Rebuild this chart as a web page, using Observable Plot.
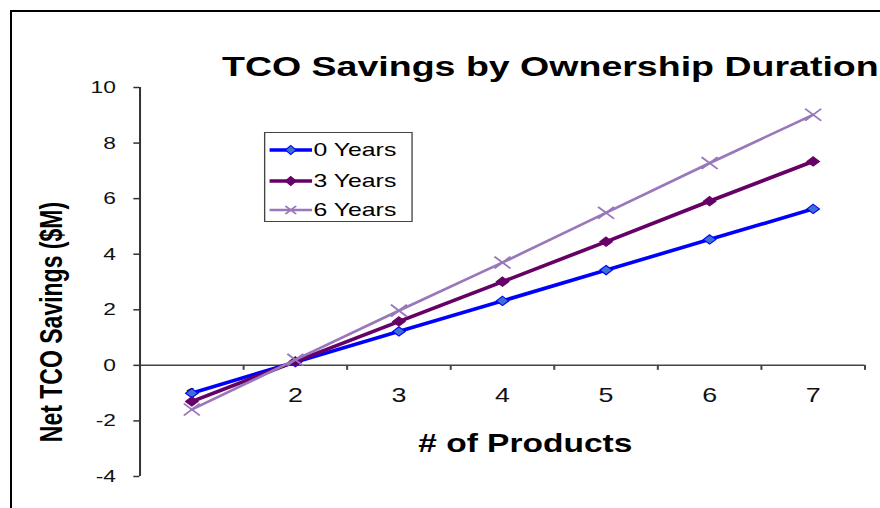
<!DOCTYPE html>
<html><head><meta charset="utf-8">
<script src="https://cdn.jsdelivr.net/npm/d3@7"></script>
<script src="https://cdn.jsdelivr.net/npm/@observablehq/plot@0.6"></script>
<style>
html,body{margin:0;padding:0;background:#fff;}
#outer{position:relative;width:880px;height:508px;overflow:hidden;background:#fff;font-family:"Liberation Sans",Arial,Helvetica,sans-serif;color:#000;}
#frame{position:absolute;left:10px;top:9.5px;width:1000px;height:1000px;border-left:2px solid #000;border-top:2px solid #000;}
#inner{position:absolute;left:0;top:0;width:657px;height:508px;transform:scaleX(1.34);transform-origin:0 0;}
#inner svg{position:absolute;left:0;top:0;display:block;}
.lbl{position:absolute;white-space:nowrap;font-weight:bold;line-height:1;}
#title{font-size:28px;left:410.7px;top:53.3px;transform:translateX(-50%);}
#xtitle{font-size:25px;left:392px;top:430.8px;transform:translateX(-50%);}
#ytitle{font-size:23px;left:38.8px;top:322px;transform:translate(-50%,-50%) rotate(-90deg);}
#legend{position:absolute;left:197px;top:132px;width:110.5px;height:90px;box-sizing:border-box;border:1.5px solid #444;background:#fff;}
.row{position:absolute;left:3px;height:20px;display:flex;align-items:center;font-size:18.5px;white-space:nowrap;}
.row svg{position:static !important;display:block;margin-right:1px;}
</style>
</head><body>
<div id="outer">
  <div id="frame"></div>
  <div id="inner"></div>
</div>
<script>
// ---- data ----
const products = [1, 2, 3, 4, 5, 6, 7];
const xTickLabels = ["1", "2", "3", "4", "5", "6", "7"];
const years0 = [-1.0, 0.12, 1.22, 2.32, 3.43, 4.53, 5.63];
const years3 = [-1.3, 0.14, 1.58, 3.01, 4.45, 5.91, 7.34];
const years6 = [-1.59, 0.2, 1.97, 3.70, 5.49, 7.28, 9.02];
const seriesNames = ["0 Years", "3 Years", "6 Years"];
const yTicks = [-4, -2, 0, 2, 4, 6, 8, 10];
const yTickLabels = ["-4", "-2", "0", "2", "4", "6", "8", "10"];
const xDividers = [1.5, 2.5, 3.5, 4.5, 5.5, 6.5, 7.5];
const xDomain = [0.5, 7.5];
const yDomain = [-4, 10];
const chartTitle = "TCO Savings by Ownership Duration";
const xTitle = "# of Products";
const yTitle = "Net TCO Savings ($M)";

// ---- styles ----
const colors = ["#0000FF", "#660066", "#9977BB"];
const markerFill = ["#3D6FD6", "#660066", "none"];
const symbols = ["diamond2", "diamond2", "times"];
const widths = [3.5, 3.5, 2.5];

const toRows = vals => products.map((p, i) => ({p, v: vals[i]}));
const seriesData = [toRows(years0), toRows(years3), toRows(years6)];

const seriesMarks = seriesData.flatMap((rows, k) => [
  Plot.line(rows, {x: "p", y: "v", stroke: colors[k], strokeWidth: widths[k]}),
  k === 2
    ? Plot.dot(rows, {x: "p", y: "v", symbol: symbols[k], r: 5.5, stroke: colors[k], strokeWidth: 1.6})
    : Plot.dot(rows, {x: "p", y: "v", symbol: symbols[k], r: 4.2, fill: markerFill[k], stroke: colors[k], strokeWidth: 1})
]);

const chart = Plot.plot({
  width: 657,
  height: 508,
  marginLeft: 104,
  marginRight: 12,
  marginTop: 87,
  marginBottom: 32,
  style: {fontFamily: '"Liberation Sans", Arial, sans-serif', background: "transparent", color: "#000", overflow: "visible"},
  x: {domain: xDomain, axis: null},
  y: {domain: yDomain},
  marks: [
    Plot.text(products, {x: d => d, y: () => 0, text: (d, i) => xTickLabels[i], dy: 30.5, fontSize: 20, fill: "#111"}),
    Plot.ruleY([0], {stroke: "#444", strokeWidth: 1.5}),
    Plot.ruleX(xDividers, {x: d => d, y1: 0, y2: 0, insetBottom: -5, stroke: "#444", strokeWidth: 1.5}),
    Plot.ruleX([xDomain[0]], {stroke: "#333", strokeWidth: 1.5}),
    Plot.axisY({ticks: yTicks, tickFormat: d => yTickLabels[yTicks.indexOf(d)], tickSize: 4.5, tickPadding: 13.5, fontSize: 17, label: null, stroke: "#333", strokeWidth: 1.5, fill: "#111"}),
    ...seriesMarks
  ]
});

const inner = document.getElementById("inner");
inner.appendChild(chart);

function addLabel(id, text) {
  const d = document.createElement("div");
  d.className = "lbl"; d.id = id; d.textContent = text;
  inner.appendChild(d);
}
addLabel("title", chartTitle);
addLabel("xtitle", xTitle);
addLabel("ytitle", yTitle);

// legend
const legend = document.createElement("div");
legend.id = "legend";
const rowTops = [6.5, 38, 67];
seriesNames.forEach((name, k) => {
  const row = document.createElement("div");
  row.className = "row";
  row.style.top = rowTops[k] + "px";
  const ns = "http://www.w3.org/2000/svg";
  const sw = document.createElementNS(ns, "svg");
  sw.setAttribute("width", 32); sw.setAttribute("height", 16);
  const ln = document.createElementNS(ns, "line");
  ln.setAttribute("x1", 0); ln.setAttribute("x2", 32); ln.setAttribute("y1", 8); ln.setAttribute("y2", 8);
  ln.setAttribute("stroke", colors[k]); ln.setAttribute("stroke-width", widths[k]);
  sw.appendChild(ln);
  const mk = document.createElementNS(ns, "path");
  if (symbols[k] === "times") {
    mk.setAttribute("d", "M12,4L20,12M12,12L20,4");
    mk.setAttribute("stroke", colors[k]); mk.setAttribute("stroke-width", 1.6); mk.setAttribute("fill", "none");
  } else {
    mk.setAttribute("d", "M16,3.5L20,8L16,12.5L12,8Z");
    mk.setAttribute("fill", markerFill[k]); mk.setAttribute("stroke", colors[k]); mk.setAttribute("stroke-width", 1);
  }
  sw.appendChild(mk);
  row.appendChild(sw);
  const t = document.createElement("span");
  t.textContent = name;
  row.appendChild(t);
  legend.appendChild(row);
});
inner.appendChild(legend);
</script>
</body></html>
